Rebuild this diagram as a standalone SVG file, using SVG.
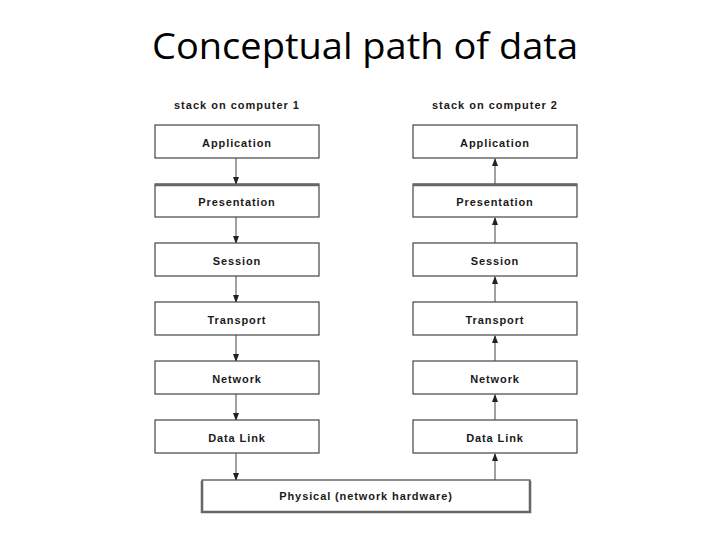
<svg xmlns="http://www.w3.org/2000/svg" width="720" height="540" viewBox="0 0 720 540">
<style>
.box{fill:#fff;stroke:#444;stroke-width:1.2}
.lbl{font-family:"Liberation Sans",Arial,sans-serif;font-size:11px;font-weight:bold;letter-spacing:0.9px;fill:#1a1a1a;text-anchor:middle}
.cap{font-family:"Liberation Sans",Arial,sans-serif;font-size:11px;font-weight:bold;letter-spacing:1px;fill:#1a1a1a;text-anchor:middle}
.ln{stroke:#444;stroke-width:1;fill:none}
.thick{stroke:#666;stroke-width:2.5;fill:none}
</style>
<defs>
<marker id="ah" markerWidth="8" markerHeight="10" refX="7" refY="3" orient="auto" markerUnits="userSpaceOnUse" viewBox="0 0 8 6">
<path d="M0,0 L8,3 L0,6 z" fill="#222"/>
</marker>
</defs>
<rect width="720" height="540" fill="#fff"/>
<text x="365" y="59" font-family="'Open Sans','Liberation Sans',sans-serif" font-size="37" fill="#000" text-anchor="middle" textLength="426" lengthAdjust="spacingAndGlyphs">Conceptual path of data</text>
<text class="cap" x="237" y="109">stack on computer 1</text>
<text class="cap" x="495" y="109">stack on computer 2</text>

<g id="connectors">
<line class="ln" x1="236" y1="158" x2="236" y2="184" marker-end="url(#ah)"/>
<line class="ln" x1="236" y1="217" x2="236" y2="243" marker-end="url(#ah)"/>
<line class="ln" x1="236" y1="276" x2="236" y2="302" marker-end="url(#ah)"/>
<line class="ln" x1="236" y1="335" x2="236" y2="361" marker-end="url(#ah)"/>
<line class="ln" x1="236" y1="394" x2="236" y2="420" marker-end="url(#ah)"/>
<line class="ln" x1="236" y1="453" x2="236" y2="480" marker-end="url(#ah)"/>
<line class="ln" x1="495" y1="480" x2="495" y2="454" marker-end="url(#ah)"/>
<line class="ln" x1="495" y1="420" x2="495" y2="395" marker-end="url(#ah)"/>
<line class="ln" x1="495" y1="361" x2="495" y2="336" marker-end="url(#ah)"/>
<line class="ln" x1="495" y1="302" x2="495" y2="277" marker-end="url(#ah)"/>
<line class="ln" x1="495" y1="243" x2="495" y2="218" marker-end="url(#ah)"/>
<line class="ln" x1="495" y1="184" x2="495" y2="159" marker-end="url(#ah)"/>
</g>

<g id="app1"><rect class="box" x="155" y="125" width="164" height="33"/><text class="lbl" x="237" y="147">Application</text></g>
<g id="pres1"><rect class="box" x="155" y="184" width="164" height="33"/><line class="thick" x1="155" y1="185" x2="319" y2="185"/><text class="lbl" x="237" y="206">Presentation</text></g>
<g id="sess1"><rect class="box" x="155" y="243" width="164" height="33"/><text class="lbl" x="237" y="265">Session</text></g>
<g id="trans1"><rect class="box" x="155" y="302" width="164" height="33"/><text class="lbl" x="237" y="324">Transport</text></g>
<g id="net1"><rect class="box" x="155" y="361" width="164" height="33"/><text class="lbl" x="237" y="383">Network</text></g>
<g id="dl1"><rect class="box" x="155" y="420" width="164" height="33"/><text class="lbl" x="237" y="442">Data Link</text></g>

<g id="app2"><rect class="box" x="413" y="125" width="164" height="33"/><text class="lbl" x="495" y="147">Application</text></g>
<g id="pres2"><rect class="box" x="413" y="184" width="164" height="33"/><line class="thick" x1="413" y1="185" x2="577" y2="185"/><text class="lbl" x="495" y="206">Presentation</text></g>
<g id="sess2"><rect class="box" x="413" y="243" width="164" height="33"/><text class="lbl" x="495" y="265">Session</text></g>
<g id="trans2"><rect class="box" x="413" y="302" width="164" height="33"/><text class="lbl" x="495" y="324">Transport</text></g>
<g id="net2"><rect class="box" x="413" y="361" width="164" height="33"/><text class="lbl" x="495" y="383">Network</text></g>
<g id="dl2"><rect class="box" x="413" y="420" width="164" height="33"/><text class="lbl" x="495" y="442">Data Link</text></g>

<g id="phys"><rect class="box" x="202" y="480" width="328" height="32"/><path class="thick" d="M202,481 V512 H530 V481"/><text class="lbl" x="366" y="500">Physical (network hardware)</text></g>
</svg>
